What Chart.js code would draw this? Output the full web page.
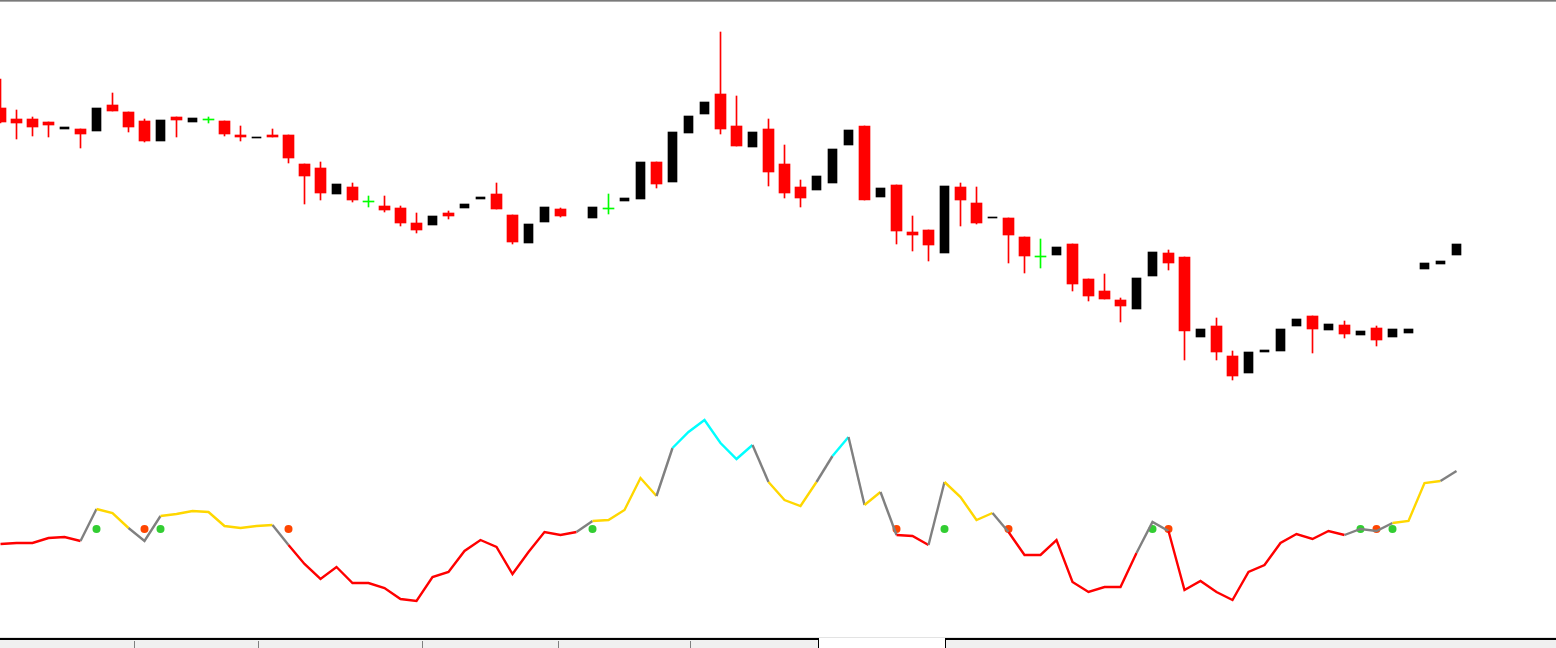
<!DOCTYPE html>
<html>
<head>
<meta charset="utf-8">
<script src="https://cdn.jsdelivr.net/npm/chart.js@4.4.1/dist/chart.umd.min.js"></script>
<style>
  html, body { margin: 0; padding: 0; background: #fff; overflow: hidden; }
  #wrap { position: relative; width: 1556px; height: 648px; background: #fff; }
  canvas { position: absolute; left: 0; }
  #priceChart { top: 0; }
  #oscChart { top: 400px; }
  .bx { position: absolute; }
</style>
</head>
<body>
<div id="wrap">
  <canvas id="priceChart" width="1556" height="400"></canvas>
  <canvas id="oscChart" width="1556" height="236"></canvas>

  <div class="bx" style="left:0;top:0;width:1556px;height:1px;background:#7a7a7a"></div>
  <div class="bx" style="left:0;top:1px;width:1556px;height:1px;background:#a8a8a8"></div>

  <div class="bx" style="left:0;top:637px;width:1556px;height:1px;background:#e3e3e3"></div>
  <div class="bx" style="left:0;top:638px;width:1556px;height:2px;background:#000"></div>
  <div class="bx" style="left:0;top:640px;width:1556px;height:8px;background:#f0f0f0"></div>
  <div class="bx" style="left:134px;top:641px;width:1px;height:7px;background:#808080"></div>
  <div class="bx" style="left:258px;top:641px;width:1px;height:7px;background:#808080"></div>
  <div class="bx" style="left:422px;top:641px;width:1px;height:7px;background:#808080"></div>
  <div class="bx" style="left:558px;top:641px;width:1px;height:7px;background:#808080"></div>
  <div class="bx" style="left:690px;top:641px;width:1px;height:7px;background:#808080"></div>
  <div class="bx" style="left:818px;top:638px;width:128px;height:10px;background:#fff"></div>
  <div class="bx" style="left:818px;top:638px;width:1px;height:10px;background:#000"></div>
  <div class="bx" style="left:945px;top:638px;width:1px;height:10px;background:#000"></div>
</div>

<script>
// candles (price in points), bar 36 has nothing drawn
const opens = [292,281,281,278,271,271,269,295,288,279,
  259,283,278,280,279,265,262,265,265,236,
  232,206,213,198,194,192,177,175,187,192,
  201,206,185,157,178,191,null,182,191,199,
  201,238,218,267,286,306,274,253,271,236,
  213,210,217,255,274,203,215,168,170,147,
  213,197,182,182,163,143,145,156,121,109,
  100,91,124,147,143,63,74,44,27,48,
  49,74,84,70,75,65,72,63,67,131,
  136,145];
const highs = [321,290,283,278,273,271,292,307,288,281,
  280,283,282,283,279,274,263,271,265,236,
  238,216,217,204,204,194,187,184,189,196,
  203,217,185,176,193,192,null,193,206,202,
  238,238,268,284,298,368,304,268,281,255,
  220,224,251,270,274,212,215,184,170,214,
  217,213,183,182,163,161,153,156,121,126,
  102,122,148,150,143,71,82,49,48,50,
  71,81,84,76,79,69,74,71,71,137,
  139,156];
const lows = [277,261,264,263,271,252,269,289,268,258,
  259,263,278,277,264,259,262,263,237,196,
  200,206,198,193,188,174,167,175,181,192,
  201,191,156,157,178,183,null,182,186,199,
  201,212,218,267,286,266,254,253,214,202,
  193,210,217,255,200,203,156,149,139,147,
  174,176,182,137,127,132,145,109,99,101,
  78,91,124,130,40,63,40,20,27,48,
  49,74,47,70,62,65,54,63,67,131,
  136,145];
const closes = [278,277,273,275,273,266,292,289,273,259,
  280,280,282,280,266,263,263,263,242,224,
  207,216,200,198,190,177,170,184,184,196,
  203,191,158,176,193,184,null,193,191,202,
  238,216,268,284,298,271,254,268,228,207,
  202,224,251,270,200,212,169,165,155,214,
  200,177,183,165,144,143,153,116,104,101,
  94,122,148,137,69,71,48,24,48,50,
  71,81,71,76,66,69,60,71,71,137,
  139,156];

// oscillator below the price
const osc = [92,93,93,98,99,95,127,123,108,95,
  120,122,125,124,110,108,110,111,91,72,
  57,69,53,53,48,37,35,59,64,85,
  96,89,62,84,104,101,104,115,116,126,
  158,140,188,204,216,193,177,191,154,136,
  130,154,180,199,131,144,101,100,91,154,
  139,116,123,104,81,81,96,54,44,49,
  49,83,114,105,46,55,44,36,64,71,
  93,102,97,105,101,107,105,113,115,153,
  155,165];
const lowerLevel = 106;
const upperLevel = 162;
const signalLevel = 107;
const crossUp = [6, 10, 37, 59, 72, 85, 87];
const crossDown = [9, 18, 56, 63, 73, 86];

const BAR_PX = 16;
const W = 1556;
const xMin = -0.5 / BAR_PX;
const xMax = xMin + W / BAR_PX;

const wickData = [], bearData = [], bullData = [], dojiData = [];
opens.forEach((o, i) => {
  if (o === null) return;
  const c = closes[i];
  wickData.push({ x: i, y: [lows[i], highs[i]], kind: c === o ? 'doji' : (c < o ? 'bear' : 'bull') });
  if (c === o) dojiData.push({ x: i, y: [o, c] });
  else if (c < o) bearData.push({ x: i, y: [c, o] });
  else bullData.push({ x: i, y: [o, c] });
});

const hidden = { display: false };

new Chart(document.getElementById('priceChart'), {
  type: 'bar',
  data: {
    datasets: [
      {
        data: wickData, barThickness: 1, grouped: false,
        backgroundColor: ctx => {
          const k = ctx.raw && ctx.raw.kind;
          return k === 'doji' ? '#00ff00' : k === 'bear' ? '#ff0000' : 'rgba(0,0,0,0)';
        }
      },
      { data: bearData, barThickness: 11, grouped: false, backgroundColor: '#ff0000' },
      { data: bullData, barThickness: 9, grouped: false, backgroundColor: '#000000' },
      { data: dojiData, barThickness: 11, grouped: false, minBarLength: 1, backgroundColor: '#00ff00' }
    ]
  },
  options: {
    responsive: false,
    animation: false,
    layout: { padding: 0, autoPadding: false },
    plugins: { legend: hidden, tooltip: { enabled: false } },
    scales: {
      x: { type: 'linear', min: xMin, max: xMax, offset: false, display: false },
      y: { min: 0, max: 400, display: false }
    }
  }
});

const zoneColor = { red: '#ff0000', gold: '#ffd700', cyan: '#00ffff' };
function zone(v) {
  return v >= upperLevel ? 'cyan' : (v >= lowerLevel ? 'gold' : 'red');
}

new Chart(document.getElementById('oscChart'), {
  type: 'line',
  data: {
    datasets: [
      {
        data: osc.map((v, i) => ({ x: i, y: v })),
        borderWidth: 2.4,
        pointRadius: 0,
        tension: 0,
        segment: {
          borderColor: ctx => {
            const a = zone(ctx.p0.parsed.y), b = zone(ctx.p1.parsed.y);
            return a === b ? zoneColor[a] : '#808080';
          }
        }
      },
      {
        data: crossUp.map(i => ({ x: i, y: signalLevel })),
        showLine: false, pointRadius: 4, borderWidth: 0,
        backgroundColor: '#32cd32'
      },
      {
        data: crossDown.map(i => ({ x: i, y: signalLevel })),
        showLine: false, pointRadius: 4, borderWidth: 0,
        backgroundColor: '#ff4500'
      }
    ]
  },
  options: {
    responsive: false,
    animation: false,
    layout: { padding: 0, autoPadding: false },
    plugins: { legend: hidden, tooltip: { enabled: false } },
    scales: {
      x: { type: 'linear', min: xMin, max: xMax, offset: false, display: false },
      y: { min: 0, max: 236, display: false }
    }
  }
});
</script>
</body>
</html>
